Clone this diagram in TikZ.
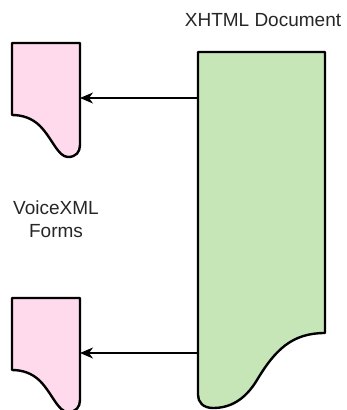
\documentclass[tikz,border=0pt]{standalone}
\usepackage{fontspec}
\setmainfont{Liberation Sans}
\usetikzlibrary{arrows.meta}

\definecolor{formpink}{RGB}{255,217,236}
\definecolor{docgreen}{RGB}{198,230,184}

\begin{document}
\begin{tikzpicture}[
    x=1pt, y=-1pt,
    doc/.style={
        draw,
        line width=2.4pt,
        line join=round,
    },
    label/.style={
        text=black!85,
        font=\fontsize{19}{23}\selectfont,
        align=center,
    },
    arrow/.style={
        -{Stealth[length=13pt, width=11pt, inset=4pt]},
        line width=1.2pt,
    },
]

    \useasboundingbox (0,0) rectangle (346,410);

    % XHTML document (wave on the right)
    \draw[doc, fill=docgreen] (198,52) -- (325,52) -- (325,333)
        .. controls (292,333) and (275,350) .. (257,380)
        .. controls (245,400) and (230,408) .. (213,408)
        .. controls (203,408) and (198,402) .. (198,395) -- cycle;

    % VoiceXML forms
    \foreach \dy/\name in {0/top, 255/bottom} {
        \draw[doc, fill=formpink] (12,43+\dy) -- (80,43+\dy) -- (80,145+\dy)
            .. controls (80,152+\dy) and (76,157+\dy) .. (68,157+\dy)
            .. controls (58,157+\dy) and (52,138+\dy) .. (40,126+\dy)
            .. controls (32,118+\dy) and (22,115+\dy) .. (12,115+\dy) -- cycle;
        \coordinate (form-\name) at (80,98+\dy);
        \coordinate (xhtml-\name) at (198,98+\dy);
    }

    \node[label] (title) at (263,20) {XHTML Document};
    \node[label] (forms) at (56,219) {VoiceXML\\Forms};

    \draw[arrow] (xhtml-top) -- (form-top);
    \draw[arrow] (xhtml-bottom) -- (form-bottom);

\end{tikzpicture}
\end{document}
